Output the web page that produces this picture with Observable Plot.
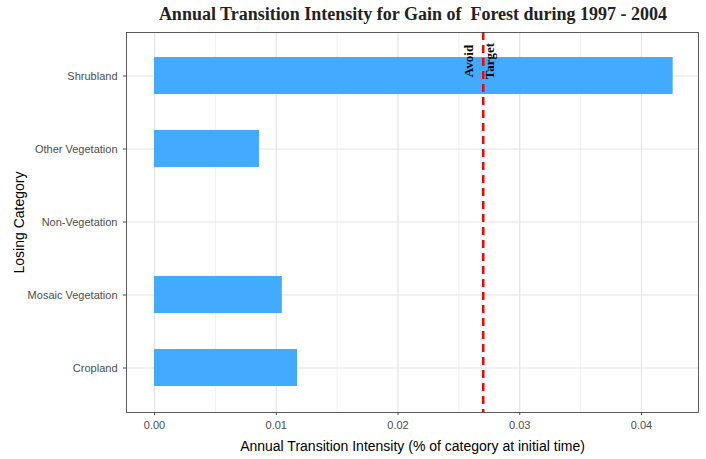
<!DOCTYPE html><html><head><meta charset="utf-8">
<script src="https://cdn.jsdelivr.net/npm/d3@7"></script>
<script src="https://cdn.jsdelivr.net/npm/@observablehq/plot@0.6"></script>
<style>body{margin:0;background:#fff}</style></head><body><div id="c"></div><script>
const categories = ["Shrubland","Other Vegetation","Non-Vegetation","Mosaic Vegetation","Cropland"];
const values = [0.0426, 0.00862, 0, 0.0105, 0.01175];
const uniform = 0.0270;
const xTicks = [0, 0.01, 0.02, 0.03, 0.04];
const minorTicks = [0.005, 0.015, 0.025, 0.035];
const data = categories.map((c,i)=>({c, v: values[i]}));
const labels = [{t: "Avoid", c: categories[0], x: uniform, dx: -14}, {t: "Target", c: categories[0], x: uniform, dx: 7}];
const chart = Plot.plot({
  width: 706, height: 459, marginLeft: 126, marginRight: 8, marginTop: 32, marginBottom: 47,
  style: {fontFamily: "Liberation Sans, Arial, sans-serif", fontSize: "11px", color: "#4d4d4d"},
  x: {domain: [-0.0023, 0.04468], ticks: xTicks},
  y: {domain: categories, paddingInner: 0.49, paddingOuter: 0.32},
  marks: [
    Plot.gridX(minorTicks, {stroke: "#e6e6e6", strokeOpacity: 1, strokeWidth: 0.6}),
    Plot.gridX(xTicks, {stroke: "#e3e3e3", strokeOpacity: 1, strokeWidth: 1.2}),
    Plot.gridY(categories, {stroke: "#e3e3e3", strokeOpacity: 1, strokeWidth: 1.2}),
    Plot.barX(data, {x: "v", y: "c", fill: "#42aaff"}),
    Plot.ruleX([uniform], {stroke: "red", strokeWidth: 2.5, strokeDasharray: "8,5"}),
    Plot.text(labels.slice(0,1), {x: "x", y: "c", text: "t", rotate: -90, dx: -14, dy: -15, fill: "black", fontFamily: "Liberation Serif, serif", fontSize: 13, fontWeight: "bold"}),
    Plot.text(labels.slice(1), {x: "x", y: "c", text: "t", rotate: -90, dx: 7, dy: -15, fill: "black", fontFamily: "Liberation Serif, serif", fontSize: 13, fontWeight: "bold"}),
    Plot.frame({stroke: "#333", strokeWidth: 0.8}),
    Plot.axisX({ticks: xTicks, tickSize: 3, tickFormat: d => d===0 ? "0.00" : String(d), label: "Annual Transition Intensity (% of category at initial time)", labelAnchor: "center", labelArrow: "none", labelOffset: 38, fontSize: 11}),
    Plot.axisY({tickSize: 3, label: "Losing Category", labelAnchor: "center", labelArrow: "none", labelOffset: 112, fontSize: 11})
  ]
});
d3.select(chart).selectAll("[aria-label='x-axis label'] text, [aria-label='y-axis label'] text").attr("font-size", 14).attr("fill", "black");
d3.select(chart).append("text").attr("x", 413).attr("y", 20).attr("text-anchor","middle")
  .attr("font-family","Liberation Serif, serif").attr("font-weight","bold").attr("font-size",18).attr("fill","#222")
  .text("Annual Transition Intensity for Gain of  Forest during 1997 - 2004");
document.getElementById("c").append(chart);
</script></body></html>
